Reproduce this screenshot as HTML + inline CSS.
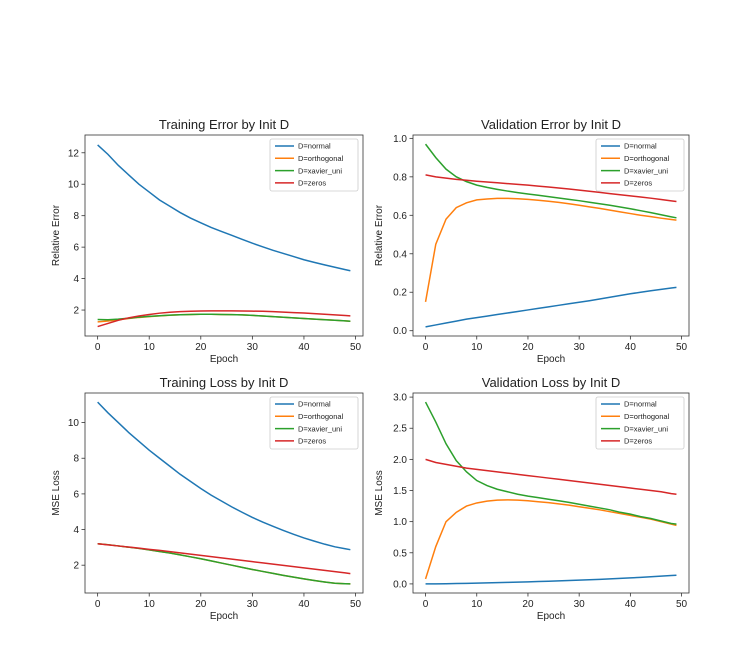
<!DOCTYPE html>
<html><head><meta charset="utf-8"><style>
html,body{margin:0;padding:0;background:#fff;}
svg{display:block;font-family:"Liberation Sans","DejaVu Sans",sans-serif;}
</style></head><body>
<svg id="fig" width="741" height="666" viewBox="0 0 741 666" xmlns="http://www.w3.org/2000/svg"></svg>
<script>
const epochs=[0,2,4,6,8,10,12,14,16,18,20,22,24,26,28,30,32,34,36,38,40,42,44,46,48,49];
const seriesNames=["D=normal","D=orthogonal","D=xavier_uni","D=zeros"];
const colors=["#1f77b4","#ff7f0e","#2ca02c","#d62728"];
const xTicks=[0,10,20,30,40,50];
// Training Error
const teNormal=[12.5,11.9,11.2,10.6,10.0,9.5,9.0,8.6,8.2,7.85,7.55,7.25,7.0,6.75,6.5,6.25,6.02,5.8,5.6,5.4,5.2,5.03,4.87,4.72,4.57,4.5];
const teOrtho=[1.25,1.3,1.38,1.46,1.53,1.58,1.63,1.67,1.7,1.72,1.73,1.73,1.72,1.71,1.69,1.66,1.62,1.58,1.54,1.5,1.46,1.42,1.39,1.35,1.31,1.29];
const teXavier=[1.4,1.38,1.42,1.48,1.55,1.6,1.64,1.68,1.7,1.72,1.73,1.73,1.72,1.71,1.69,1.66,1.62,1.58,1.54,1.5,1.46,1.42,1.38,1.35,1.31,1.29];
const teZeros=[0.95,1.15,1.35,1.5,1.62,1.72,1.8,1.86,1.9,1.92,1.94,1.95,1.95,1.95,1.94,1.93,1.92,1.9,1.87,1.84,1.81,1.77,1.73,1.69,1.65,1.63];
const teTicks=[2,4,6,8,10,12];
// Validation Error
const veNormal=[0.02,0.03,0.04,0.05,0.06,0.068,0.076,0.084,0.092,0.1,0.108,0.116,0.124,0.132,0.14,0.148,0.156,0.165,0.174,0.183,0.192,0.2,0.208,0.215,0.222,0.225];
const veOrtho=[0.15,0.45,0.58,0.64,0.665,0.68,0.685,0.688,0.688,0.686,0.683,0.678,0.673,0.667,0.66,0.652,0.644,0.636,0.627,0.618,0.609,0.6,0.593,0.585,0.578,0.575];
const veXavier=[0.97,0.9,0.84,0.8,0.775,0.757,0.745,0.735,0.726,0.718,0.711,0.704,0.697,0.69,0.683,0.676,0.668,0.66,0.652,0.643,0.634,0.624,0.614,0.603,0.592,0.587];
const veZeros=[0.81,0.8,0.793,0.787,0.782,0.777,0.773,0.769,0.765,0.761,0.757,0.752,0.747,0.742,0.737,0.731,0.725,0.719,0.713,0.707,0.701,0.695,0.689,0.682,0.675,0.672];
const veTicks=["0.0","0.2","0.4","0.6","0.8","1.0"];
// Training Loss
const tlNormal=[11.15,10.55,10.0,9.45,8.95,8.45,8.0,7.55,7.1,6.7,6.3,5.93,5.6,5.27,4.97,4.68,4.42,4.18,3.95,3.73,3.53,3.35,3.18,3.03,2.92,2.87];
const tlOrtho=[3.2,3.15,3.08,3.01,2.94,2.86,2.77,2.68,2.58,2.47,2.36,2.24,2.12,2.0,1.88,1.76,1.65,1.54,1.43,1.33,1.23,1.14,1.06,0.99,0.96,0.95];
const tlXavier=[3.2,3.15,3.08,3.01,2.94,2.86,2.77,2.68,2.58,2.47,2.36,2.24,2.12,2.0,1.88,1.76,1.65,1.54,1.43,1.33,1.23,1.14,1.06,0.99,0.96,0.95];
const tlZeros=[3.2,3.14,3.08,3.02,2.96,2.89,2.83,2.76,2.69,2.62,2.55,2.48,2.41,2.34,2.27,2.2,2.13,2.06,1.99,1.92,1.85,1.78,1.71,1.64,1.57,1.53];
const tlTicks=[2,4,6,8,10];
// Validation Loss
const vlNormal=[0,0.001,0.003,0.006,0.009,0.012,0.016,0.02,0.024,0.028,0.033,0.038,0.043,0.048,0.054,0.06,0.066,0.073,0.08,0.088,0.096,0.105,0.115,0.125,0.135,0.14];
const vlOrtho=[0.08,0.6,1.0,1.15,1.25,1.3,1.33,1.345,1.35,1.345,1.335,1.32,1.305,1.285,1.265,1.24,1.215,1.19,1.16,1.13,1.1,1.07,1.04,1.0,0.96,0.94];
const vlXavier=[2.92,2.6,2.25,1.98,1.8,1.66,1.58,1.52,1.48,1.44,1.41,1.385,1.36,1.335,1.31,1.28,1.25,1.22,1.19,1.15,1.12,1.08,1.05,1.01,0.97,0.96];
const vlZeros=[2.0,1.95,1.92,1.89,1.86,1.84,1.82,1.8,1.78,1.76,1.74,1.72,1.7,1.68,1.66,1.64,1.62,1.6,1.58,1.56,1.54,1.52,1.5,1.48,1.45,1.44];
const vlTicks=["0.0","0.5","1.0","1.5","2.0","2.5","3.0"];

const NS="http://www.w3.org/2000/svg";
const svg=document.getElementById('fig');
function mk(tag,attrs,parent,name,txt){const e=document.createElementNS(NS,tag);for(const k in attrs)e.setAttribute(k,attrs[k]);


if(txt!==undefined)e.textContent=txt;(parent||svg).appendChild(e);return e;}

function panel(cfg){
  const g=mk('g',{},svg,cfg.name);
  const L=cfg.L,R=cfg.R,T=cfg.T,B=cfg.B;
  const xs=v=>L+(R-L)*(v-(-2.45))/(51.45-(-2.45));
  const ys=v=>B-(B-T)*(v-cfg.ymin)/(cfg.ymax-cfg.ymin);
  mk('text',{x:(L+R)/2,y:T-6,'text-anchor':'middle','font-size':13,fill:'#222'},g,'chart-title',cfg.title);
  cfg.series.forEach((s,i)=>{
    const d=epochs.map((e,j)=>(j?'L':'M')+xs(e).toFixed(2)+','+ys(s[j]).toFixed(2)).join('');
    mk('path',{d:d,fill:'none',stroke:colors[i],'stroke-width':1.5},g,'line-'+seriesNames[i].slice(2));
  });
  mk('rect',{x:L,y:T,width:R-L,height:B-T,fill:'none',stroke:'#333','stroke-width':0.8},g,'plot-frame');
  xTicks.forEach(t=>{const x=xs(t);
    mk('line',{x1:x,x2:x,y1:B,y2:B+3.5,stroke:'#333','stroke-width':0.8},g,'x-tick');
    mk('text',{x:x,y:B+14,'text-anchor':'middle','font-size':10,fill:'#222'},g,'x-tick-label',String(t));});
  cfg.ticks.forEach(t=>{const y=ys(parseFloat(t));
    mk('line',{x1:L-3.5,x2:L,y1:y,y2:y,stroke:'#333','stroke-width':0.8},g,'y-tick');
    mk('text',{x:L-6,y:y+3.5,'text-anchor':'end','font-size':10,fill:'#222'},g,'y-tick-label',String(t));});
  mk('text',{x:(L+R)/2,y:B+26,'text-anchor':'middle','font-size':10,fill:'#222'},g,'x-axis-title','Epoch');
  const yl=L-cfg.yoff;const yc=(T+B)/2;
  mk('text',{x:yl,y:yc,'text-anchor':'middle','font-size':10,fill:'#222',transform:`rotate(-90 ${yl} ${yc})`},g,'y-axis-title',cfg.ylabel);
  const lg=mk('g',{},g,'legend');
  const lx=R-93,ly=T+4;
  mk('rect',{x:lx,y:ly,width:88,height:52,rx:2,fill:'#fff',stroke:'#ccc','stroke-width':0.8},lg,'legend-box');
  seriesNames.forEach((n,i)=>{const y=ly+7+i*12.3;
    mk('line',{x1:lx+5,x2:lx+24,y1:y,y2:y,stroke:colors[i],'stroke-width':1.5},lg,'legend-swatch');
    mk('text',{x:lx+28,y:y+2.7,'font-size':7.5,fill:'#222'},lg,'legend-entry',n);});
}
panel({name:'training-error-chart',title:'Training Error by Init D',ylabel:'Relative Error',yoff:26,L:85,R:363,T:135,B:336,ymin:0.35,ymax:13.13,ticks:teTicks,series:[teNormal,teOrtho,teXavier,teZeros]});
panel({name:'validation-error-chart',title:'Validation Error by Init D',ylabel:'Relative Error',yoff:31,L:413,R:689,T:135,B:336,ymin:-0.0275,ymax:1.0175,ticks:veTicks,series:[veNormal,veOrtho,veXavier,veZeros]});
panel({name:'training-loss-chart',title:'Training Loss by Init D',ylabel:'MSE Loss',yoff:26,L:85,R:363,T:393,B:593,ymin:0.44,ymax:11.66,ticks:tlTicks,series:[tlNormal,tlOrtho,tlXavier,tlZeros]});
panel({name:'validation-loss-chart',title:'Validation Loss by Init D',ylabel:'MSE Loss',yoff:31,L:413,R:689,T:393,B:593,ymin:-0.146,ymax:3.066,ticks:vlTicks,series:[vlNormal,vlOrtho,vlXavier,vlZeros]});
</script>
</body></html>
